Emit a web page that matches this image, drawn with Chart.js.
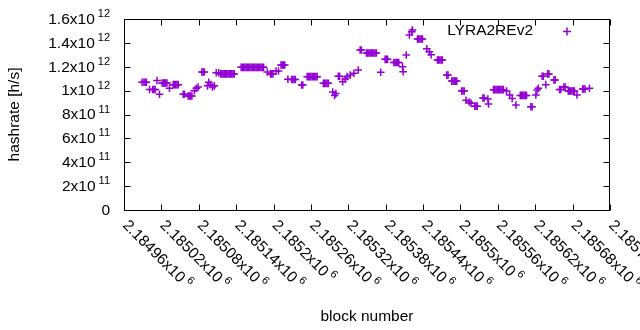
<!DOCTYPE html>
<html>
<head>
<meta charset="utf-8">
<script src="https://cdn.jsdelivr.net/npm/chart.js@4.4.1/dist/chart.umd.min.js"></script>
<style>
  html, body { margin: 0; padding: 0; background: #fff; }
  canvas { display: block; }
</style>
</head>
<body>
<canvas id="hashrateChart" width="640" height="330"></canvas>
<script>
const seriesName = "LYRA2REv2";
const xTitle = "block number";
const yTitle = "hashrate [h/s]";

const xTicks = [2184960, 2185020, 2185080, 2185140, 2185200, 2185260, 2185320,
    2185380, 2185440, 2185500, 2185560, 2185620, 2185680, 2185740];
const yTicks = [0, 2e11, 4e11, 6e11, 8e11, 1e12, 1.2e12, 1.4e12, 1.6e12];

// one entry per LYRA2REv2 block
const blockNumbers = [
    2184989, 2184992, 2184994, 2184996,
    2185001, 2185006, 2185008, 2185010,
    2185013, 2185017,
    2185021, 2185023, 2185025, 2185027, 2185029,
    2185033,
    2185039, 2185041, 2185043, 2185045, 2185047,
    2185055, 2185057,
    2185063, 2185065, 2185067, 2185069,
    2185073, 2185076, 2185079,
    2185085, 2185087, 2185089,
    2185094, 2185096, 2185099, 2185102, 2185105,
    2185108, 2185112,
    2185115, 2185117, 2185119, 2185121, 2185123, 2185125, 2185127, 2185129, 2185131, 2185133, 2185135, 2185137,
    2185148, 2185150, 2185152, 2185154, 2185156, 2185158, 2185160, 2185162, 2185164, 2185166,
    2185168, 2185170, 2185172, 2185174, 2185176, 2185178, 2185180, 2185182, 2185184,
    2185190,
    2185195, 2185197, 2185199,
    2185204, 2185208,
    2185212, 2185214, 2185216, 2185218,
    2185223,
    2185229, 2185231, 2185233, 2185235,
    2185245, 2185247,
    2185254, 2185256, 2185258, 2185260, 2185262, 2185264, 2185266, 2185268, 2185270,
    2185280, 2185282, 2185284, 2185286, 2185288,
    2185295, 2185298, 2185300,
    2185304, 2185306,
    2185311, 2185315, 2185318, 2185323, 2185329, 2185336,
    2185339, 2185341,
    2185349, 2185351, 2185353, 2185355, 2185357, 2185359, 2185361, 2185363, 2185365,
    2185372,
    2185379, 2185381, 2185383,
    2185393, 2185395, 2185397, 2185399, 2185401,
    2185407, 2185408, 2185413,
    2185418, 2185422, 2185423,
    2185431, 2185433, 2185435, 2185437, 2185439,
    2185446, 2185450, 2185453,
    2185463, 2185465, 2185467, 2185469, 2185471,
    2185478, 2185480,
    2185486, 2185488, 2185490, 2185492, 2185494,
    2185502, 2185504, 2185506,
    2185509, 2185514, 2185517,
    2185523, 2185525, 2185527,
    2185536, 2185538,
    2185544, 2185545,
    2185553, 2185555, 2185557, 2185559, 2185561, 2185563, 2185565, 2185567, 2185569,
    2185574, 2185579, 2185583,
    2185589,
    2185596, 2185598, 2185600, 2185602, 2185604, 2185606,
    2185613, 2185615,
    2185621, 2185623, 2185625,
    2185631, 2185633,
    2185637,
    2185640, 2185642,
    2185650, 2185652,
    2185659, 2185661,
    2185666, 2185668,
    2185673, 2185675, 2185677, 2185679, 2185681, 2185683,
    2185687,
    2185696, 2185698, 2185700,
    2185707
];

const hashrates = [
    1.07e12, 1.07e12, 1.07e12, 1.07e12,
    1.01e12, 1.01e12, 1.01e12, 1.01e12,
    1.085e12, 0.97e12,
    1.064e12, 1.064e12, 1.064e12, 1.064e12, 1.064e12,
    1.02e12,
    1.05e12, 1.05e12, 1.05e12, 1.05e12, 1.05e12,
    0.97e12, 0.97e12,
    0.955e12, 0.955e12, 0.955e12, 0.955e12,
    1.0e12, 1.02e12, 1.03e12,
    1.156e12, 1.156e12, 1.156e12,
    1.04e12, 1.07e12, 1.05e12, 1.03e12, 1.04e12,
    1.15e12, 1.15e12,
    1.14e12, 1.14e12, 1.14e12, 1.14e12, 1.14e12, 1.14e12, 1.14e12, 1.14e12, 1.14e12, 1.14e12, 1.14e12, 1.14e12,
    1.195e12, 1.195e12, 1.195e12, 1.195e12, 1.195e12, 1.195e12, 1.195e12, 1.195e12, 1.195e12, 1.195e12,
    1.195e12, 1.195e12, 1.195e12, 1.195e12, 1.195e12, 1.195e12, 1.195e12, 1.195e12, 1.195e12,
    1.156e12,
    1.14e12, 1.14e12, 1.14e12,
    1.165e12, 1.165e12,
    1.215e12, 1.215e12, 1.215e12, 1.215e12,
    1.095e12,
    1.093e12, 1.093e12, 1.093e12, 1.093e12,
    1.047e12, 1.047e12,
    1.117e12, 1.117e12, 1.117e12, 1.117e12, 1.117e12, 1.117e12, 1.117e12, 1.117e12, 1.117e12,
    1.061e12, 1.061e12, 1.061e12, 1.061e12, 1.061e12,
    0.988e12, 0.96e12, 0.975e12,
    1.12e12, 1.12e12,
    1.075e12, 1.097e12, 1.117e12, 1.13e12, 1.145e12, 1.173e12,
    1.34e12, 1.34e12,
    1.315e12, 1.315e12, 1.315e12, 1.315e12, 1.315e12, 1.315e12, 1.315e12, 1.315e12, 1.315e12,
    1.154e12,
    1.262e12, 1.262e12, 1.262e12,
    1.236e12, 1.236e12, 1.236e12, 1.236e12, 1.236e12,
    1.2e12, 1.158e12, 1.298e12,
    1.466e12, 1.494e12, 1.508e12,
    1.432e12, 1.432e12, 1.432e12, 1.432e12, 1.432e12,
    1.35e12, 1.325e12, 1.30e12,
    1.256e12, 1.256e12, 1.256e12, 1.256e12, 1.256e12,
    1.13e12, 1.13e12,
    1.08e12, 1.08e12, 1.08e12, 1.08e12, 1.08e12,
    0.997e12, 0.997e12, 0.997e12,
    0.92e12, 0.905e12, 0.895e12,
    0.87e12, 0.87e12, 0.87e12,
    0.938e12, 0.938e12,
    0.93e12, 0.888e12,
    1.008e12, 1.008e12, 1.008e12, 1.008e12, 1.008e12, 1.008e12, 1.008e12, 1.008e12, 1.008e12,
    0.997e12, 0.963e12, 0.935e12,
    0.88e12,
    0.96e12, 0.96e12, 0.96e12, 0.96e12, 0.96e12, 0.96e12,
    0.865e12, 0.865e12,
    0.963e12, 1.005e12, 1.02e12,
    1.12e12, 1.12e12,
    1.05e12,
    1.14e12, 1.14e12,
    1.09e12, 1.09e12,
    1.01e12, 1.01e12,
    1.03e12, 1.03e12,
    0.997e12, 0.997e12, 0.997e12, 0.997e12, 0.997e12, 0.997e12,
    0.963e12,
    1.014e12, 1.014e12, 1.014e12,
    1.02e12
];

const purple = '#9400d3';
const mainFont = '15.5px "Liberation Sans", Arial, sans-serif';
const expFont = '11px "Liberation Sans", Arial, sans-serif';

// "1.6x10" + "12" style labels like gnuplot's enhanced text
function sciParts(v) {
    const exp = Math.floor(Math.log10(v));
    const mant = parseFloat((v / Math.pow(10, exp)).toPrecision(6));
    return [mant + 'x10', String(exp)];
}

const gnuplotFrame = {
    id: 'gnuplotFrame',
    afterDraw(chart) {
        const { ctx, chartArea: a, scales: { x, y } } = chart;
        const L = Math.round(a.left) + 0.5, R = Math.round(a.right) - 0.5;
        const T = Math.round(a.top) + 0.5, B = Math.round(a.bottom) + 0.5;
        ctx.save();
        ctx.strokeStyle = '#000';
        ctx.lineWidth = 1;
        ctx.strokeRect(L, T, R - L, B - T);

        ctx.beginPath();
        yTicks.forEach(v => {
            const py = Math.round(y.getPixelForValue(v)) + 0.5;
            ctx.moveTo(L, py); ctx.lineTo(L + 6, py);
            ctx.moveTo(R, py); ctx.lineTo(R - 6, py);
        });
        xTicks.forEach(v => {
            const px = Math.round(x.getPixelForValue(v)) + 0.5;
            ctx.moveTo(px, B); ctx.lineTo(px, B - 6);
            ctx.moveTo(px, T); ctx.lineTo(px, T + 6);
        });
        ctx.stroke();

        ctx.fillStyle = '#000';
        // y tick labels
        yTicks.forEach(v => {
            const py = y.getPixelForValue(v);
            ctx.textBaseline = 'middle';
            ctx.textAlign = 'right';
            if (v === 0) {
                ctx.font = mainFont;
                ctx.fillText('0', 110, py + 0.5);
                return;
            }
            const [mant, exp] = sciParts(v);
            ctx.font = expFont;
            const expW = ctx.measureText(exp).width;
            ctx.fillText(exp, 110, py - 5);
            ctx.font = mainFont;
            ctx.fillText(mant, 110 - expW - 3, py + 0.5);
        });

        // x tick labels, rotated
        xTicks.forEach(v => {
            const px = x.getPixelForValue(v);
            const [mant, exp] = sciParts(v);
            ctx.save();
            ctx.translate(px + 1, 223);
            ctx.rotate(Math.PI / 4);
            ctx.textAlign = 'left';
            ctx.textBaseline = 'middle';
            ctx.font = mainFont;
            const w = ctx.measureText(mant).width;
            ctx.fillText(mant, 0, 0);
            ctx.font = expFont;
            ctx.fillText(exp, w + 3, -5.5);
            ctx.restore();
        });

        // axis titles
        ctx.font = mainFont;
        ctx.textAlign = 'center';
        ctx.textBaseline = 'middle';
        ctx.fillText(xTitle, (a.left + a.right) / 2, 317);
        ctx.save();
        ctx.translate(15, (a.top + a.bottom) / 2);
        ctx.rotate(-Math.PI / 2);
        ctx.fillText(yTitle, 0, 0);
        ctx.restore();

        // key
        ctx.textAlign = 'right';
        ctx.fillText(seriesName, 533, 31);
        ctx.strokeStyle = purple;
        ctx.lineWidth = 1.5;
        ctx.beginPath();
        ctx.moveTo(563, 31.5); ctx.lineTo(571, 31.5);
        ctx.moveTo(567, 27.5); ctx.lineTo(567, 35.5);
        ctx.stroke();
        ctx.restore();
    }
};

const chartCtx = document.getElementById('hashrateChart').getContext('2d');
new Chart(chartCtx, {
    type: 'scatter',
    data: {
        datasets: [{
            label: seriesName,
            data: blockNumbers.map((b, i) => ({ x: b, y: hashrates[i] })),
            pointStyle: 'cross',
            pointRadius: 3.8,
            pointHoverRadius: 3.8,
            pointBorderWidth: 1.5,
            borderColor: purple,
            backgroundColor: purple
        }]
    },
    options: {
        responsive: false,
        animation: false,
        events: [],
        layout: { padding: { top: 19, right: 30, left: 0, bottom: 0 } },
        plugins: {
            legend: { display: false },
            tooltip: { enabled: false }
        },
        scales: {
            x: {
                type: 'linear',
                min: xTicks[0],
                max: xTicks[xTicks.length - 1],
                grid: { display: false },
                border: { display: false },
                ticks: { display: false },
                afterFit(scale) { scale.height = 120; }
            },
            y: {
                type: 'linear',
                min: yTicks[0],
                max: yTicks[yTicks.length - 1],
                grid: { display: false },
                border: { display: false },
                ticks: { display: false },
                afterFit(scale) { scale.width = 124; }
            }
        }
    },
    plugins: [gnuplotFrame]
});
</script>
</body>
</html>
